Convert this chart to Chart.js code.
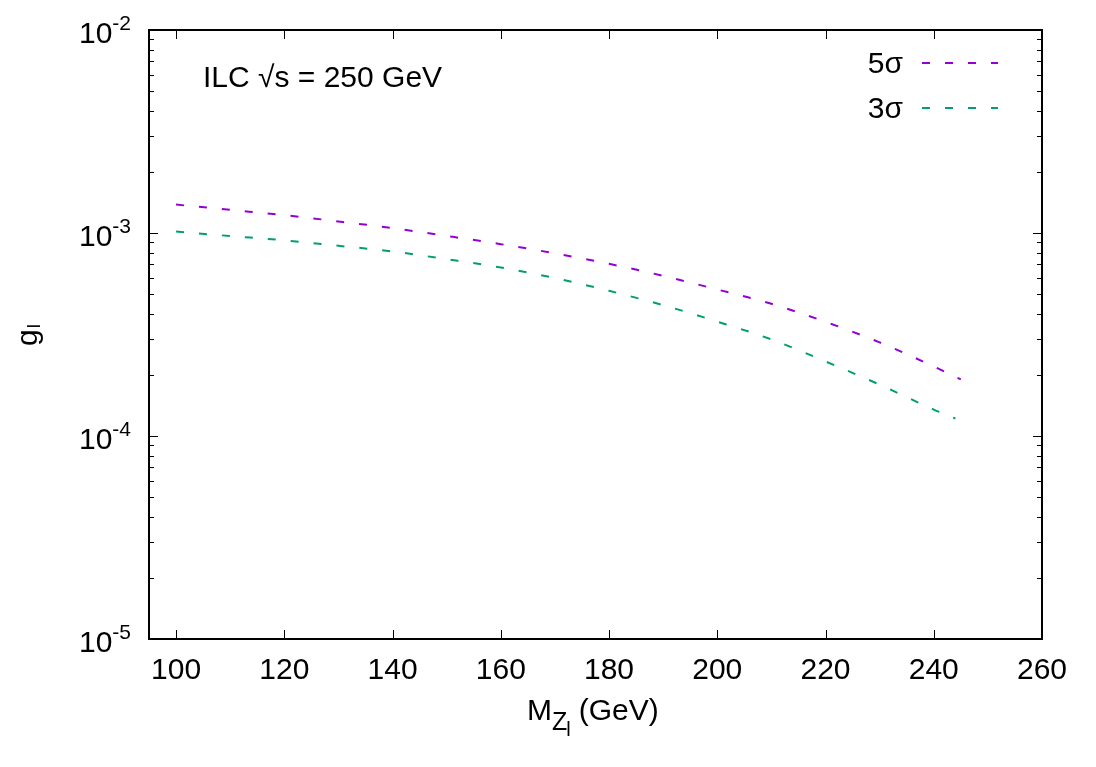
<!DOCTYPE html>
<html>
<head>
<meta charset="utf-8">
<script src="https://cdn.jsdelivr.net/npm/chart.js@4"></script>
<style>
  body { margin: 0; background: #fff; }
  #chart { display: block; }
</style>
</head>
<body>
<canvas id="chart" width="1096" height="767"></canvas>
<script>
// values
const mass5 = [100, 110, 120, 130, 140, 150, 160, 170, 180, 190, 200, 210, 220, 230, 240, 245];
const g5 = [1.38e-3, 1.30e-3, 1.225e-3, 1.14e-3, 1.057e-3, 9.67e-4, 8.81e-4, 7.94e-4,
            7.05e-4, 6.15e-4, 5.27e-4, 4.48e-4, 3.65e-4, 2.89e-4, 2.20e-4, 1.90e-4];
const mass3 = [100, 110, 120, 130, 140, 150, 160, 170, 180, 190, 200, 210, 220, 230, 240, 244];
const g3 = [1.016e-3, 9.66e-4, 9.2e-4, 8.65e-4, 8.11e-4, 7.43e-4, 6.76e-4, 6.0e-4,
            5.19e-4, 4.41e-4, 3.66e-4, 2.99e-4, 2.33e-4, 1.79e-4, 1.35e-4, 1.22e-4];

const seriesNames = ['5σ', '3σ'];
const seriesColors = ['#9400d3', '#009e73'];
const xTicks = [100, 120, 140, 160, 180, 200, 220, 240, 260];
const yExponents = [-2, -3, -4, -5];

const FONT = '"Liberation Sans", Arial, Helvetica, sans-serif';

const toPoints = (xs, ys) => xs.map((x, i) => ({ x: x, y: ys[i] }));

const gnuplotFrame = {
    id: 'gnuplotFrame',
    afterDraw(chart) {
        const c = chart.ctx;
        const a = chart.chartArea;
        const xs = chart.scales.x;
        const ys = chart.scales.y;
        c.save();
        c.strokeStyle = '#000';
        c.fillStyle = '#000';
        c.lineWidth = 1;

        // x ticks (bottom and top, inward)
        c.beginPath();
        xTicks.forEach(v => {
            const px = Math.round(xs.getPixelForValue(v)) + 0.5;
            c.moveTo(px, a.bottom); c.lineTo(px, a.bottom - 9);
            c.moveTo(px, a.top); c.lineTo(px, a.top + 9);
        });
        // y major + minor ticks (left and right)
        yExponents.forEach(e => {
            const py = Math.round(ys.getPixelForValue(Math.pow(10, e))) + 0.5;
            c.moveTo(a.left, py); c.lineTo(a.left + 9, py);
            c.moveTo(a.right, py); c.lineTo(a.right - 9, py);
        });
        [-5, -4, -3].forEach(e => {
            for (let m = 2; m <= 9; m++) {
                const py = Math.round(ys.getPixelForValue(m * Math.pow(10, e))) + 0.5;
                c.moveTo(a.left, py); c.lineTo(a.left + 5, py);
                c.moveTo(a.right, py); c.lineTo(a.right - 5, py);
            }
        });
        c.stroke();

        // border
        c.lineWidth = 2;
        c.strokeRect(a.left, a.top, a.right - a.left, a.bottom - a.top);

        // x tick labels
        c.font = '30px ' + FONT;
        c.textAlign = 'center';
        c.textBaseline = 'alphabetic';
        xTicks.forEach(v => {
            c.fillText(String(v), xs.getPixelForValue(v), a.bottom + 40);
        });

        // y tick labels 10^e
        yExponents.forEach(e => {
            const py = ys.getPixelForValue(Math.pow(10, e));
            c.font = '30px ' + FONT;
            const w1 = c.measureText('10').width;
            c.font = '21px ' + FONT;
            const sup = String(e);
            const w2 = c.measureText(sup).width;
            const x0 = a.left - 18 - w1 - w2;
            c.textAlign = 'left';
            c.font = '30px ' + FONT;
            c.fillText('10', x0, py + 13);
            c.font = '21px ' + FONT;
            c.fillText(sup, x0 + w1, py);
        });

        // x axis title: M_{Z_l} (GeV)
        c.textAlign = 'left';
        c.font = '30px ' + FONT;
        let tx = 527;
        const ty = a.bottom + 81;
        c.fillText('M', tx, ty);
        tx += c.measureText('M').width;
        c.font = '25px ' + FONT;
        c.fillText('Z', tx, ty + 10);
        tx += c.measureText('Z').width - 1;
        c.font = '20px ' + FONT;
        c.fillText('l', tx, ty + 16);
        tx += c.measureText('l').width + 8;
        c.font = '30px ' + FONT;
        c.fillText('(GeV)', tx, ty);

        // y axis title: g_l (rotated)
        c.save();
        c.translate(37, 346);
        c.rotate(-Math.PI / 2);
        c.font = '30px ' + FONT;
        c.fillText('g', 0, 0);
        const gw = c.measureText('g').width;
        c.font = '19px ' + FONT;
        c.fillText('l', gw + 1, 3);
        c.restore();

        // annotation
        c.font = '30px ' + FONT;
        c.fillText('ILC \u221As = 250 GeV', a.left + 54, a.top + 57);

        // key
        chart.data.datasets.forEach((ds, i) => {
            const ky = a.top + 33 + i * 45;
            c.textAlign = 'right';
            c.font = '30px ' + FONT;
            c.fillText(ds.label, a.right - 139, ky + 10);
            c.strokeStyle = ds.borderColor;
            c.lineWidth = 2;
            c.setLineDash([8, 15]);
            c.beginPath();
            c.moveTo(a.right - 120, ky);
            c.lineTo(a.right - 44, ky);
            c.stroke();
            c.setLineDash([]);
        });

        c.restore();
    }
};

new Chart(document.getElementById('chart'), {
    type: 'line',
    data: {
        datasets: [{
            label: seriesNames[0],
            data: toPoints(mass5, g5),
            borderColor: seriesColors[0],
            borderWidth: 2,
            borderDash: [8, 15],
            pointRadius: 0,
            cubicInterpolationMode: 'monotone',
            fill: false
        }, {
            label: seriesNames[1],
            data: toPoints(mass3, g3),
            borderColor: seriesColors[1],
            borderWidth: 2,
            borderDash: [8, 15],
            pointRadius: 0,
            cubicInterpolationMode: 'monotone',
            fill: false
        }]
    },
    options: {
        responsive: false,
        animation: false,
        devicePixelRatio: 1,
        layout: {
            padding: { left: 149, right: 54, top: 30, bottom: 128 }
        },
        scales: {
            x: { type: 'linear', min: 95, max: 260, display: false },
            y: { type: 'logarithmic', min: 1e-5, max: 1e-2, display: false }
        },
        plugins: {
            legend: { display: false },
            title: { display: false },
            tooltip: { enabled: false }
        }
    },
    plugins: [gnuplotFrame]
});
</script>
</body>
</html>
